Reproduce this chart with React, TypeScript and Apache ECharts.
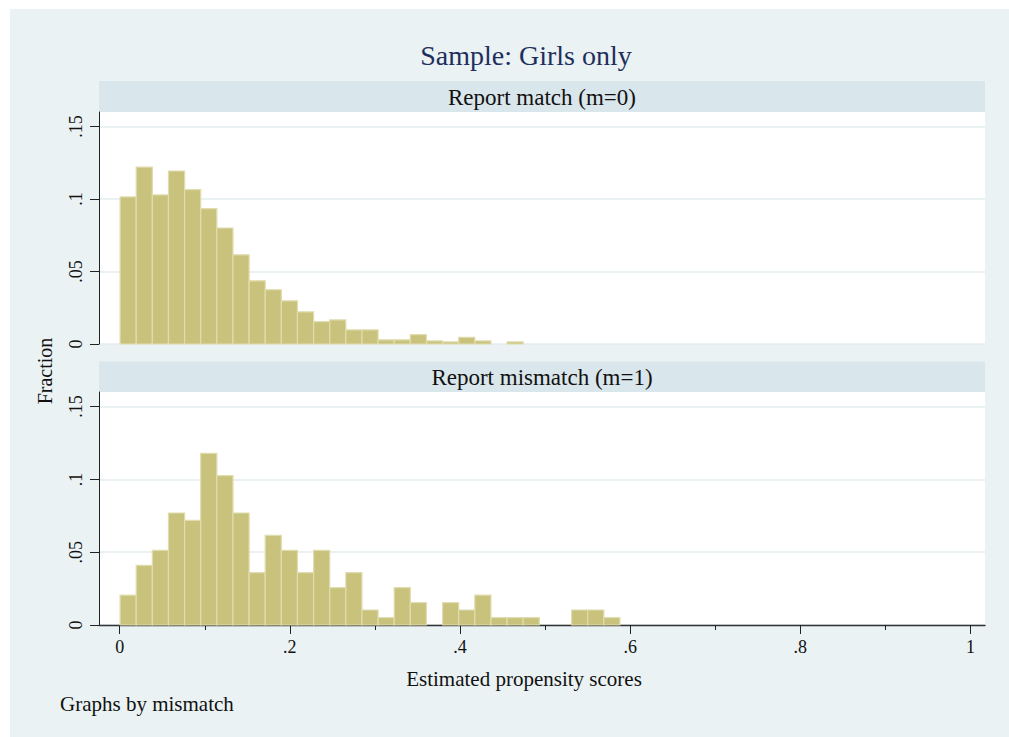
import React, { useEffect, useRef } from "react";
import * as echarts from "echarts";

const titleText = "Sample: Girls only";
const panelTitles = ["Report match (m=0)", "Report mismatch (m=1)"];
const xTickValues = [0, 0.2, 0.4, 0.6, 0.8, 1];
const xMinorTickValues = [0.1, 0.3, 0.5, 0.7, 0.9];
const yTickValues = [0, 0.05, 0.1, 0.15];
const binStart = 0.0005;
const binWidth = 0.01895;

// fraction per bin, m=0 (report match)
const matchFractions = [
  0.1014, 0.122, 0.1028, 0.1193, 0.1065, 0.0934, 0.08, 0.0615, 0.0436, 0.0374,
  0.0298, 0.0222, 0.0155, 0.0166, 0.0097, 0.0097, 0.0029, 0.0029, 0.0064, 0.0021,
  0.0014, 0.0046, 0.0021, 0, 0.0014, 0, 0, 0, 0, 0, 0,
];
// fraction per bin, m=1 (report mismatch)
const mismatchFractions = [
  0.0205, 0.041, 0.0513, 0.0769, 0.0718, 0.1179, 0.1026, 0.0769, 0.0359, 0.0615,
  0.0513, 0.0359, 0.0513, 0.0256, 0.0359, 0.0103, 0.0051, 0.0256, 0.0154, 0,
  0.0154, 0.0103, 0.0205, 0.0051, 0.0051, 0.0051, 0, 0, 0.0103, 0.0103, 0.0051,
];

const FONT = "Liberation Serif, DejaVu Serif, serif";
const BG = "#EAF2F3";
const STRIP = "#D9E6EB";
const GRIDLINE = "#E3ECEE";
const BAR_FILL = "#C9C27D";
const BAR_STROKE = "#E0DCAE";

const fmt = (v: number) => {
  if (v === 0) return "0";
  if (v === 1) return "1";
  return String(+v.toFixed(2)).replace(/^0\./, ".");
};

function toBins(values: number[]) {
  return values.map((v, i) => [binStart + i * binWidth, binStart + (i + 1) * binWidth, v]);
}

export default function App() {
  const ref = useRef<HTMLDivElement>(null);
  useEffect(() => {
    if (!ref.current) return;
    const chart = echarts.init(ref.current, null, { renderer: "svg" });

    const renderItem = (params: any, api: any) => {
      const x0 = api.value(0);
      const x1 = api.value(1);
      const v = api.value(2);
      if (!v) return null;
      const p0 = api.coord([x0, v]);
      const p1 = api.coord([x1, 0]);
      return {
        type: "rect",
        shape: { x: p0[0], y: p0[1], width: p1[0] - p0[0], height: p1[1] - p0[1] },
        style: { fill: BAR_FILL, stroke: BAR_STROKE, lineWidth: 1.2 },
      };
    };

    const xMin = -0.0243;
    const xMax = 1.017;

    const yAxisBase = (gi: number) => ({
      type: "value",
      gridIndex: gi,
      min: 0,
      max: 0.16,
      interval: 0.05,
      axisLine: { show: true, onZero: false, lineStyle: { color: "#222", width: 1 } },
      axisTick: { show: true, length: 9, customValues: yTickValues, lineStyle: { color: "#222" } },
      axisLabel: {
        customValues: yTickValues,
        rotate: 90,
        margin: 14,
        fontFamily: FONT,
        fontSize: 18,
        color: "#111",
        formatter: (v: number) => fmt(v),
      },
      splitLine: { show: true, lineStyle: { color: GRIDLINE, width: 1.5 } },
    });

    const option: any = {
      animation: false,
      backgroundColor: "#ffffff",
      title: {
        text: titleText,
        left: 521,
        textAlign: "center",
        top: 36,
        textStyle: { fontFamily: FONT, fontSize: 28, fontWeight: "normal", color: "#1E2F5E" },
      },
      graphic: [
        { type: "rect", z: -10, shape: { x: 10, y: 9, width: 999, height: 728 }, style: { fill: BG } },
        { type: "rect", z: -5, shape: { x: 99, y: 81, width: 886, height: 31 }, style: { fill: STRIP } },
        { type: "rect", z: -5, shape: { x: 99, y: 112, width: 886, height: 232 }, style: { fill: "#ffffff" } },
        { type: "rect", z: -5, shape: { x: 99, y: 361.5, width: 886, height: 30.5 }, style: { fill: STRIP } },
        { type: "rect", z: -5, shape: { x: 99, y: 392, width: 886, height: 233 }, style: { fill: "#ffffff" } },
        {
          type: "text",
          x: 542,
          y: 97,
          style: { text: panelTitles[0], font: `23px ${FONT}`, fill: "#111", align: "center", verticalAlign: "middle" },
        },
        {
          type: "text",
          x: 542,
          y: 377,
          style: { text: panelTitles[1], font: `23px ${FONT}`, fill: "#111", align: "center", verticalAlign: "middle" },
        },
        {
          type: "text",
          x: 45,
          y: 371,
          rotation: Math.PI / 2,
          style: { text: "Fraction", font: `20px ${FONT}`, fill: "#111", align: "center", verticalAlign: "middle" },
        },
        {
          type: "text",
          x: 60,
          y: 704,
          style: { text: "Graphs by mismatch", font: `21px ${FONT}`, fill: "#111", align: "left", verticalAlign: "middle" },
        },
      ],
      grid: [
        { left: 99, right: 24, top: 112, height: 232 },
        { left: 99, right: 24, top: 392, height: 233 },
      ],
      xAxis: [
        {
          type: "value",
          gridIndex: 0,
          min: xMin,
          max: xMax,
          axisLine: { show: false },
          axisTick: { show: false },
          axisLabel: { show: false },
          splitLine: { show: false },
        },
        {
          type: "value",
          gridIndex: 1,
          min: xMin,
          max: xMax,
          position: "bottom",
          name: "Estimated propensity scores",
          nameLocation: "middle",
          nameGap: 43,
          nameTextStyle: { fontFamily: FONT, fontSize: 21, color: "#111", padding: [0, 36, 0, 0] },
          axisLine: { show: true, onZero: false, lineStyle: { color: "#333", width: 1.3 } },
          axisTick: { show: true, length: 9, customValues: xTickValues, lineStyle: { color: "#222" } },
          axisLabel: {
            customValues: xTickValues,
            margin: 13,
            fontFamily: FONT,
            fontSize: 18,
            color: "#111",
            formatter: (v: number) => fmt(v),
          },
          splitLine: { show: false },
        },
        {
          type: "value",
          gridIndex: 1,
          min: xMin,
          max: xMax,
          position: "bottom",
          offset: 0,
          axisLine: { show: false, onZero: false },
          axisTick: { show: true, length: 5, customValues: xMinorTickValues, lineStyle: { color: "#222" } },
          axisLabel: { show: false },
          splitLine: { show: false },
        },
      ],
      yAxis: [yAxisBase(0), yAxisBase(1)],
      series: [
        {
          type: "custom",
          xAxisIndex: 0,
          yAxisIndex: 0,
          renderItem,
          encode: { x: [0, 1], y: 2 },
          data: toBins(matchFractions),
        },
        {
          type: "custom",
          xAxisIndex: 1,
          yAxisIndex: 1,
          renderItem,
          encode: { x: [0, 1], y: 2 },
          data: toBins(mismatchFractions),
        },
      ],
    };

    chart.setOption(option);
    return () => chart.dispose();
  }, []);

  return (
    <div
      ref={ref}
      style={{ position: "fixed", left: 0, top: 0, width: 1009, height: 737 }}
    />
  );
}
